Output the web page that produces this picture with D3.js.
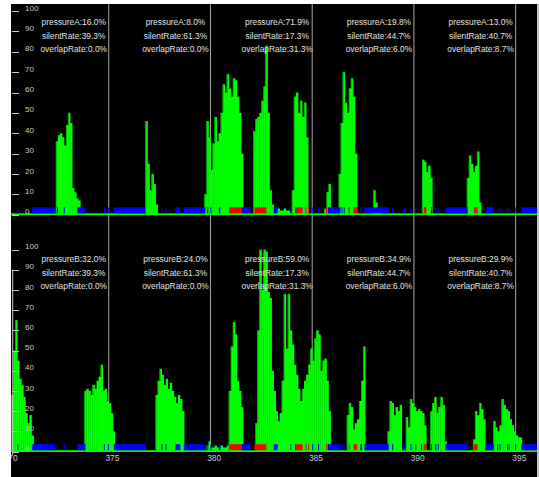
<!DOCTYPE html>
<html><head><meta charset="utf-8">
<script src="https://cdn.jsdelivr.net/npm/d3@7"></script>
<style>html,body{margin:0;padding:0;background:#fff;}svg{display:block;}</style>
</head><body>
<svg id="c" width="539" height="477"></svg>
<script>
// ---- data ----
const xTicks = [370, 375, 380, 385, 390, 395];
const yTicks = [0, 10, 20, 30, 40, 50, 60, 70, 80, 90, 100];
const sectionEnds = [375, 380, 385, 390, 395];
const pressureA = ["16.0%", "8.0%", "71.9%", "19.8%", "13.0%"];
const pressureB = ["32.0%", "24.0%", "59.0%", "34.9%", "29.9%"];
const silentRate = ["39.3%", "61.3%", "17.3%", "44.7%", "40.7%"];
const overlapRate = ["0.0%", "0.0%", "31.3%", "6.0%", "8.7%"];
const step = 0.1;
// [start time, values every 0.1 s]
const burstsA = [
  [372.4, [36,39,40,38,34,44,50,45,13,11,8,7]],
  [376.8, [46,25,12,20,15,5]],
  [379.7, [10,46,38,22,35,48,36,40,50,64,60,69,62,58,67,66,58,50,30]],
  [382.1, [41,47,48,50,56,63,83,50,12,5,3,2,3,2,2,3,2,2,1]],
  [384.0, [12,58,60,50,56,48,55,38]],
  [385.6, [3,11,15]],
  [386.3, [20,45,70,55,50,62,67,58,30]],
  [387.9, [3,12,6,2,3]],
  [390.4, [27,26,21,24,18]],
  [392.6, [18,29,25,21,24,31,6]]
];
const burstsB = [
  [370.2, [28,50,65,45,36,33,27,19,14,18,8]],
  [373.8, [30,31,30,28,33,31,35,37,43,30,31,25,24,19,10]],
  [377.3, [28,35,41,38,33,36,31,34,30,27,24,28,26,20]],
  [379.8, [3,5,2,2,3,2,2,3,2,2,3]],
  [380.9, [30,52,64,58,35,30,22]],
  [382.2, [14,60,100,80,100,99,79,76,40,30,20,15,19,35,78,51,78,60,53,43,38,31,25,31,35,38,43,51,45,56,60,58,40,45,46,35,20]],
  [386.7, [18,24,22,11,14,16,25,35,52]],
  [388.7, [10,25,24,18,22,20,23]],
  [389.6, [17,12,26,24,22,20,21,20,19,13]],
  [390.8, [20,24,27,19,22,27,23,5]],
  [392.9, [6,20,18,24,21,16]],
  [393.9, [15,12,10,13,26,23,21,20,16,13,10,8,7,7]]
];
const silentIntervals = [
  [370.51,370.56],[371.24,372.38],[372.46,372.50],[372.79,372.83],[373.46,373.86],
  [374.76,374.80],[374.96,375.00],[375.25,376.80],[377.59,377.63],[377.79,377.83],
  [378.28,378.52],[378.69,379.75],[379.84,379.88],[380.00,380.04],[380.41,380.49],
  [381.52,381.96],[383.11,383.30],[383.93,383.97],[384.17,384.21],[385.00,385.04],
  [385.29,385.33],[385.76,386.39],[386.44,386.48],[386.55,386.59],[387.37,387.45],
  [387.57,388.76],[388.93,388.97],[389.50,389.58],[389.83,389.87],[390.07,390.11],
  [390.35,390.39],[390.84,390.88],[391.05,391.09],[391.17,391.21],[391.55,392.64],
  [393.51,393.92],[394.09,394.13],[394.21,394.25],[394.58,394.62],[394.66,394.70],
  [394.98,395.02],[395.28,396.10]
];
const overlapIntervals = [
  [380.93,381.51],[382.16,382.75],[384.21,384.53],[384.67,384.71],[384.80,384.84],
  [385.68,385.72],[386.79,386.83],[387.03,387.21],[390.48,390.61],[392.94,393.13]
];

// ---- drawing ----
const svg = d3.select("#c");
const W = 539, H = 477;
const plotL = 11, plotR = 537, plotT = 4;
const x = d3.scaleLinear().domain([370, 396]).range([7.0, 7.0 + 26 * 20.346]);
const panels = [
  {y: d3.scaleLinear().domain([0, 100]).range([214.6, 11.1]), bursts: burstsA, name: "pressureA", vals: pressureA, textY: 25.3},
  {y: d3.scaleLinear().domain([0, 100]).range([451.5, 249.5]), bursts: burstsB, name: "pressureB", vals: pressureB, textY: 262.3}
];

svg.append("rect").attr("x", 0).attr("y", 0).attr("width", W).attr("height", H).attr("fill", "#fff");
svg.append("rect").attr("x", plotL).attr("y", plotT).attr("width", plotR - plotL).attr("height", H - plotT).attr("fill", "#000");
svg.append("rect").attr("x", plotR).attr("y", plotT).attr("width", W - plotR).attr("height", H - plotT).attr("fill", "#c0c0c0");

const defs = svg.append("defs");
defs.append("clipPath").attr("id", "pc").append("rect")
  .attr("x", plotL).attr("y", plotT).attr("width", plotR - plotL).attr("height", H - plotT);
const g = svg.append("g").attr("clip-path", "url(#pc)");

// section lines
g.selectAll("line.sec").data(sectionEnds).join("line")
  .attr("x1", d => x(d)).attr("x2", d => x(d))
  .attr("y1", plotT).attr("y2", 452)
  .attr("stroke", "#a8a8a8").attr("stroke-width", 1);

panels.forEach(p => {
  const y0 = p.y(0);
  // green baseline
  g.append("rect").attr("x", plotL).attr("y", y0 - 1.3).attr("width", plotR - plotL).attr("height", 1.8).attr("fill", "#00ff00");
  // bars
  const bars = [];
  p.bursts.forEach(([t0, vals]) => vals.forEach((v, i) => bars.push({t: t0 + i * step, v, prev: i > 0 ? vals[i - 1] : 0})));
  const bg = g.append("g");
  bg.selectAll("rect").data(bars).join("rect")
    .attr("x", d => x(d.t))
    .attr("width", d => x(d.t + step) - x(d.t) + 0.4)
    .attr("y", d => p.y(d.v))
    .attr("height", d => y0 - p.y(d.v))
    .attr("fill", "#00ff00");
  // darker edge where a bar rises above its left neighbour
  bg.selectAll("line").data(bars.filter(d => d.v > d.prev + 4)).join("line")
    .attr("x1", d => x(d.t) + 0.4).attr("x2", d => x(d.t) + 0.4)
    .attr("y1", d => p.y(d.v)).attr("y2", d => p.y(d.prev))
    .attr("stroke", "#00a000").attr("stroke-width", 0.8);
  // silent (blue) and overlap (red)
  g.append("g").selectAll("rect").data(silentIntervals).join("rect")
    .attr("x", d => x(d[0])).attr("width", d => Math.max(1, x(d[1]) - x(d[0])))
    .attr("y", y0 - 7.3).attr("height", 6).attr("fill", "#0000ff");
  g.append("g").selectAll("rect").data(overlapIntervals).join("rect")
    .attr("x", d => x(d[0])).attr("width", d => Math.max(1, x(d[1]) - x(d[0])))
    .attr("y", y0 - 7.3).attr("height", 6).attr("fill", "#ff0000");
  // y ticks
  const yt = g.append("g");
  yt.selectAll("line").data(yTicks).join("line")
    .attr("x1", 12).attr("x2", 19).attr("y1", d => Math.round(p.y(d)) + 0.5).attr("y2", d => Math.round(p.y(d)) + 0.5)
    .attr("stroke", "#c8c8c8").attr("stroke-width", 1);
  yt.selectAll("text").data(yTicks).join("text")
    .attr("x", 25).attr("y", d => p.y(d) - 0.4)
    .attr("font-family", "Liberation Sans, Arial, sans-serif").attr("font-size", 8)
    .attr("fill", "#c8c8c8").text(d => d);
  // stats text
  const rows = [p.vals.map(v => p.name + ":" + v), silentRate.map(v => "silentRate:" + v), overlapRate.map(v => "overlapRate:" + v)];
  rows.forEach((row, r) => {
    g.append("g").selectAll("text").data(row).join("text")
      .attr("x", (d, i) => x(sectionEnds[i]) - 35)
      .attr("y", p.textY + r * 13.5)
      .attr("text-anchor", "middle")
      .attr("font-family", "Liberation Sans, Arial, sans-serif").attr("font-size", 8.4)
      .attr("fill", "#e0e0e0").text(d => d);
  });
});

// bottom-left axis line
g.append("line").attr("x1", 12.7).attr("x2", 12.7)
  .attr("y1", panels[1].y(90)).attr("y2", 455)
  .attr("stroke", "#c8c8c8").attr("stroke-width", 1);

// x tick labels
g.append("g").selectAll("text").data(xTicks).join("text")
  .attr("x", d => x(d) + 3.7).attr("y", 461.3)
  .attr("text-anchor", "middle")
  .attr("font-family", "Liberation Sans, Arial, sans-serif").attr("font-size", 8.4)
  .attr("fill", "#c8c8c8").text(d => d);
</script>
</body></html>
